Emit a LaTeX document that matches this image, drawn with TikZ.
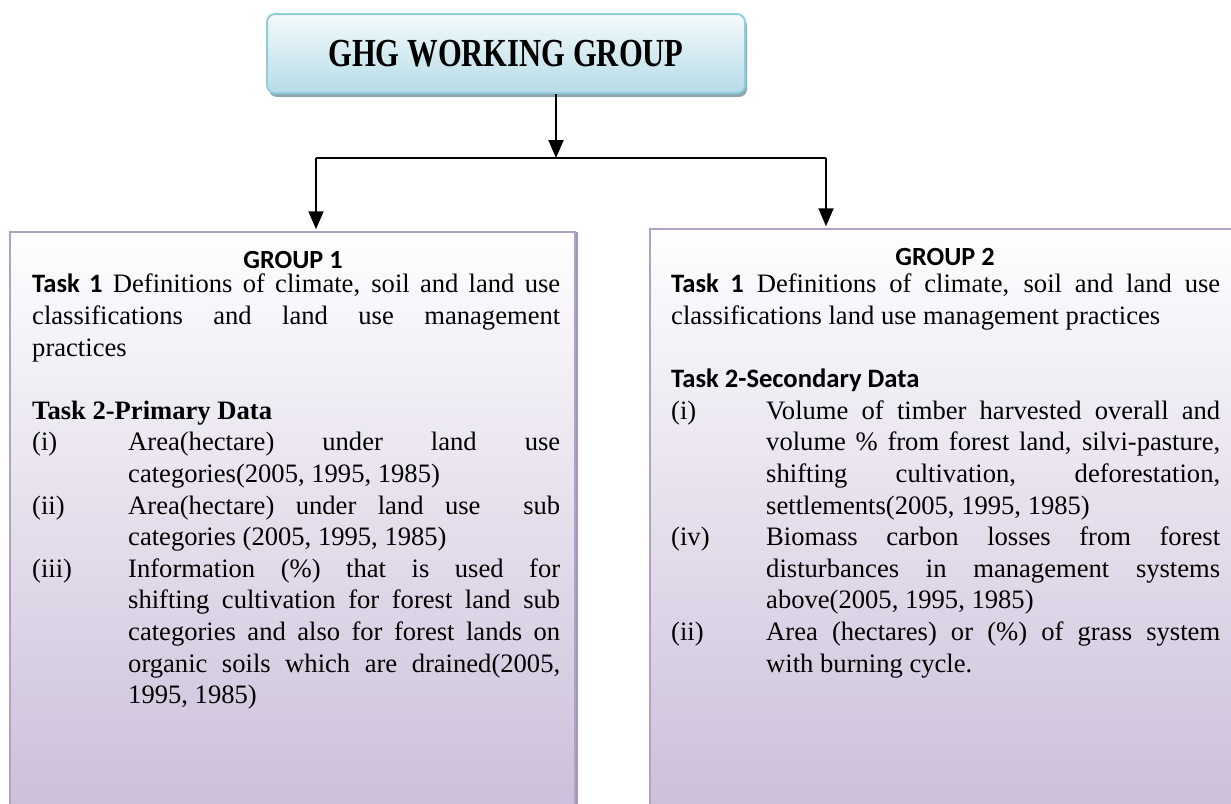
\documentclass[tikz,border=0pt]{standalone}
\usepackage{fontspec}
\usepackage{graphicx}
\setmainfont{Liberation Serif}
\newfontfamily\calib{Carlito}
\usetikzlibrary{arrows.meta,shadows}
\definecolor{topfillA}{HTML}{F4FAFC}
\definecolor{topfillB}{HTML}{B6DCE7}
\definecolor{topline}{HTML}{92CDDC}
\definecolor{topshadow}{HTML}{8FA8B0}
\definecolor{gline}{HTML}{B2A1C7}
\definecolor{gfillA}{HTML}{FEFEFF}
\definecolor{gfillB}{HTML}{CBBED9}
\definecolor{gshadow}{HTML}{A595B8}
\newcommand{\jl}[2]{\makebox[#1][s]{#2}}
\newcommand{\cb}[1]{{\calib\bfseries #1}}
\newcommand{\lab}[2]{\makebox[#1][l]{#2}}
\newcommand{\normsp}{\spaceskip=0pt\xspaceskip=0pt\relax}
\tikzset{
  topbox/.style={draw=topline, line width=2pt, rounded corners=8pt,
    top color=topfillA, bottom color=topfillB,
    drop shadow={shadow xshift=2pt, shadow yshift=-4pt, fill=topshadow, opacity=1},
    minimum width=478pt, minimum height=79pt, inner sep=0pt,
    font=\fontsize{30.6}{36}\selectfont\bfseries},
  groupbox/.style={draw=gline, line width=2.5pt,
    top color=gfillA, bottom color=gfillB,
    drop shadow={shadow xshift=3pt, shadow yshift=0pt, fill=gshadow, opacity=1},
    inner sep=0pt},
  heading/.style={anchor=base, inner sep=0pt, font=\fontsize{26.2}{31.6}\selectfont\calib\bfseries},
  bodytext/.style={anchor=north west, inner sep=0pt, align=left,
    font=\fontsize{26.6}{31.6}\selectfont},
  conn/.style={line width=2pt, -{Triangle[length=18pt,width=15pt]}},
}
\begin{document}
\begin{tikzpicture}[x=1pt,y=-1pt]
\useasboundingbox (0,0) rectangle (1231,803);
\clip (0,0) rectangle (1231,803);
\fill[white] (0,0) rectangle (1231,803);

\node[topbox] (top) at (506,53.5) {\raisebox{1pt}{\scalebox{1}[1.3]{GHG WORKING GROUP}}};

\node[groupbox, minimum width=565pt, minimum height=590pt] (g1) at (292.5,527) {};
\node[groupbox, minimum width=595pt, minimum height=593pt] (g2) at (947.5,525.5) {};

\node[heading] (h1) at (293,268) {GROUP 1};
\node[heading] (h2) at (945,265) {GROUP 2};

\node[bodytext, text width=528pt] (b1) at (32,274) {\normsp\rule{0pt}{18pt}%
\jl{528pt}{\cb{Task 1} Definitions of climate, soil and land use}\\
\jl{528pt}{classifications and land use management}\\
practices\\[31.6pt]
\textbf{Task 2-Primary Data}\\
\lab{96pt}{(i)}\jl{432pt}{Area(hectare) under land use}\\
\hspace*{96pt}categories(2005, 1995, 1985)\\
\lab{96pt}{(ii)}\jl{432pt}{Area(hectare) under land use \ sub}\\
\hspace*{96pt}categories (2005, 1995, 1985)\\
\lab{96pt}{(iii)}\jl{432pt}{Information (\%) that is used for}\\
\hspace*{96pt}\jl{432pt}{shifting cultivation for forest land sub}\\
\hspace*{96pt}\jl{432pt}{categories and also for forest lands on}\\
\hspace*{96pt}\jl{432pt}{organic soils which are drained(2005,}\\
\hspace*{96pt}1995, 1985)};

\node[bodytext, text width=549pt] (b2) at (671,274) {\normsp\rule{0pt}{18pt}%
\jl{549pt}{\cb{Task 1} Definitions of climate, soil and land use}\\
classifications land use management practices\\[31.6pt]
\cb{Task 2-Secondary Data}\\
\lab{95pt}{(i)}\jl{454pt}{Volume of timber harvested overall and}\\
\hspace*{95pt}\jl{454pt}{volume \% from forest land, silvi-pasture,}\\
\hspace*{95pt}\jl{454pt}{shifting cultivation, deforestation,}\\
\hspace*{95pt}settlements(2005, 1995, 1985)\\
\lab{95pt}{(iv)}\jl{454pt}{Biomass carbon losses from forest}\\
\hspace*{95pt}\jl{454pt}{disturbances in management systems}\\
\hspace*{95pt}above(2005, 1995, 1985)\\
\lab{95pt}{(ii)}\jl{454pt}{Area (hectares) or (\%) of grass system}\\
\hspace*{95pt}with burning cycle.};

\coordinate (jc) at (556,158);
\coordinate (jl) at (316,158);
\coordinate (jr) at (826,158);
\draw[conn] (top.south -| jc) -- (jc);
\draw[line width=2pt] (jl) -- (jr);
\draw[conn] (jl) -- ([yshift=1.5pt]jl |- g1.north);
\draw[conn] (jr) -- ([yshift=1.5pt]jr |- g2.north);
\end{tikzpicture}
\end{document}
